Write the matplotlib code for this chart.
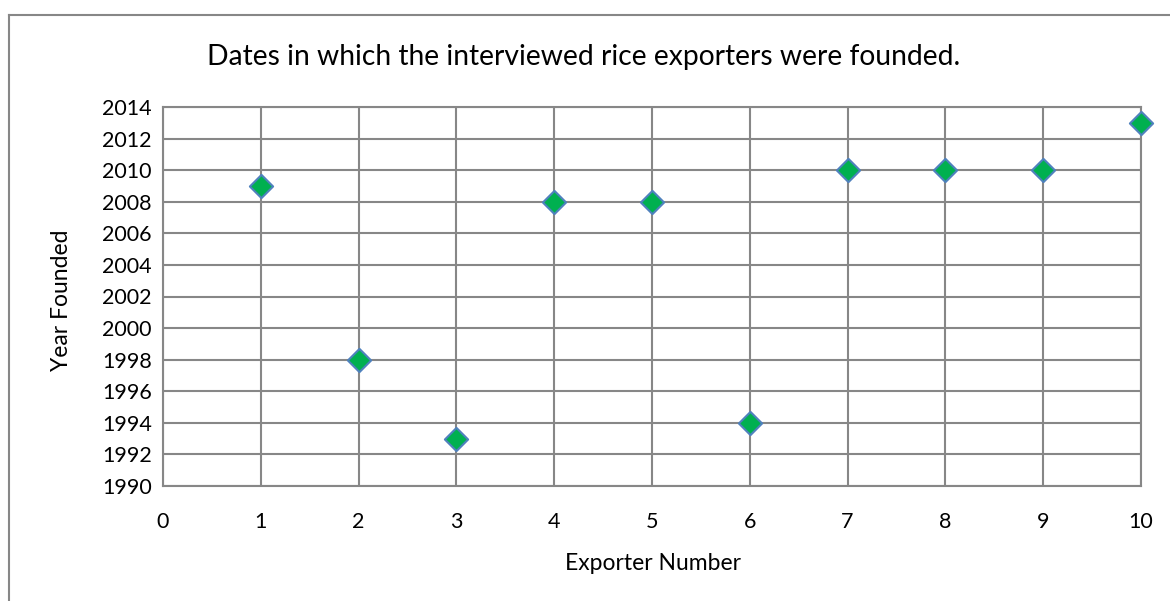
import matplotlib.pyplot as plt
from matplotlib.lines import Line2D

exporters = [1, 2, 3, 4, 5, 6, 7, 8, 9, 10]
years = [2009, 1998, 1993, 2008, 2008, 1994, 2010, 2010, 2010, 2013]

plt.rcParams['font.family'] = ['Lato', 'DejaVu Sans']

W, H = 1170, 601
fig = plt.figure(figsize=(W / 100, H / 100), dpi=100)
ax = fig.add_axes([163 / W, 1 - 486 / H, (1141 - 163) / W, (486 - 107) / H])

ax.scatter(exporters, years, marker='D', s=140, color='#00B050',
           edgecolor='#4F81BD', linewidth=1.5, zorder=3, clip_on=False)

ax.set_xlim(0, 10)
ax.set_ylim(1990, 2014)
ax.set_xticks(range(0, 11))
ax.set_yticks(range(1990, 2015, 2))
ax.grid(True, color='#878787', linewidth=1.5)
ax.tick_params(length=0, labelsize=15.5)
ax.tick_params(axis='x', pad=19)
ax.tick_params(axis='y', pad=8)
for s in ax.spines.values():
    s.set_color('#878787')
    s.set_linewidth(1.5)

fig.text(584 / W, 1 - 57 / H, 'Dates in which the interviewed rice exporters were founded.',
         ha='center', va='center', fontsize=20.3)
fig.text(653 / W, 1 - 563 / H, 'Exporter Number', ha='center', va='center', fontsize=16.5)
fig.text(62 / W, 1 - 300 / H, 'Year Founded', ha='center', va='center', fontsize=16.5, rotation=90)

# outer chart border
fig.add_artist(Line2D([9 / W, 1], [1 - 15 / H, 1 - 15 / H], color='#878787', linewidth=1.5))
fig.add_artist(Line2D([9 / W, 9 / W], [0, 1 - 15 / H], color='#878787', linewidth=1.5))

fig.savefig('out.png', dpi=100)
